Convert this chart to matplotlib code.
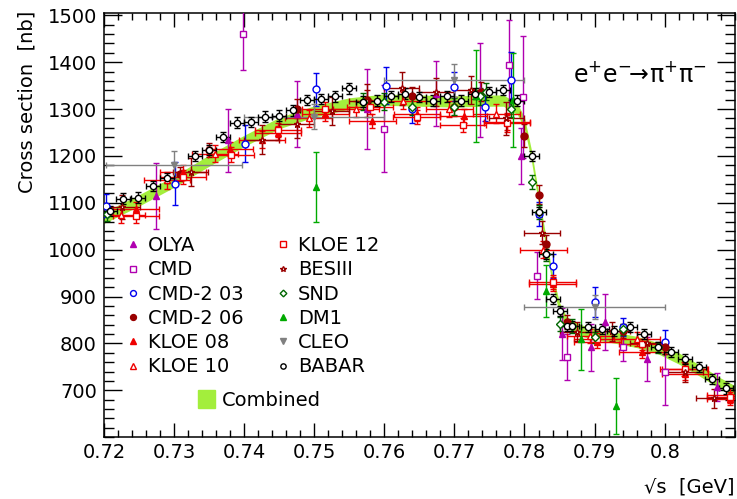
import matplotlib.pyplot as plt
import numpy as np
from matplotlib.lines import Line2D
from matplotlib.patches import Patch
from matplotlib.ticker import MultipleLocator

# combined fit band
comb_s = [0.720, 0.725, 0.730, 0.735, 0.740, 0.745, 0.750, 0.755, 0.760, 0.765,
          0.770, 0.774, 0.777, 0.779, 0.780, 0.781, 0.782, 0.783, 0.784, 0.785,
          0.786, 0.788, 0.790, 0.793, 0.796, 0.799, 0.802, 0.805, 0.808, 0.810]
comb_sig = [1068, 1105, 1145, 1190, 1232, 1270, 1295, 1312, 1320, 1318,
            1316, 1318, 1318, 1300, 1270, 1200, 1110, 1020, 935, 875,
            845, 828, 820, 812, 803, 790, 768, 742, 714, 698]
comb_w = 12

olya_s = [0.7275, 0.7377, 0.7476, 0.7575, 0.7674, 0.7736, 0.7795, 0.7854, 0.7895, 0.7915, 0.7975, 0.8075]
olya_sig = [1115, 1233, 1290, 1300, 1333, 1340, 1200, 820, 792, 845, 766, 707]
olya_err = [70, 68, 70, 85, 70, 100, 60, 55, 50, 60, 47, 30]

cmd_s = [0.7398, 0.7599, 0.7778, 0.7798, 0.7818, 0.7860, 0.7940, 0.8000]
cmd_sig = [1460, 1258, 1395, 1325, 944, 771, 792, 738]
cmd_err = [77, 93, 95, 130, 50, 50, 30, 70]

cmd203_s = [0.7203, 0.7301, 0.7401, 0.7503, 0.7603, 0.7640, 0.7700, 0.7743, 0.7781, 0.7821, 0.7841, 0.7900, 0.7940, 0.8000]
cmd203_sig = [1094, 1141, 1226, 1342, 1350, 1301, 1348, 1305, 1361, 1076, 965, 888, 835, 803]
cmd203_err = [25, 45, 40, 35, 40, 30, 30, 30, 60, 25, 25, 32, 20, 25]

cmd206_s = [0.7308, 0.7350, 0.7475, 0.7575, 0.7640, 0.7700, 0.7738, 0.7800, 0.7820, 0.7830, 0.7860, 0.7940, 0.8000]
cmd206_sig = [1162, 1213, 1301, 1320, 1327, 1305, 1337, 1243, 1117, 1012, 845, 826, 792]
cmd206_err = [15, 15, 20, 20, 20, 20, 20, 25, 20, 20, 15, 15, 15]

kloe08_s = [0.7246, 0.7313, 0.7380, 0.7448, 0.7516, 0.7583, 0.7647, 0.7713, 0.7775, 0.7840, 0.7904, 0.7968, 0.8029, 0.8093]
kloe08_sig = [1087, 1166, 1215, 1248, 1290, 1275, 1290, 1286, 1273, 927, 803, 781, 734, 681]
kloe08_err = [15, 15, 15, 15, 15, 15, 15, 15, 18, 15, 12, 12, 12, 12]

kloe10_s = [0.7225, 0.7290, 0.7358, 0.7425, 0.7492, 0.7560, 0.7626, 0.7693, 0.7760, 0.7827, 0.7893, 0.7960, 0.8027, 0.8093]
kloe10_sig = [1075, 1148, 1205, 1235, 1280, 1300, 1318, 1300, 1290, 1000, 815, 810, 745, 690]
kloe10_err = [18, 18, 18, 18, 18, 18, 18, 18, 20, 18, 15, 15, 15, 15]

kloe12_s = [0.7246, 0.7313, 0.7381, 0.7448, 0.7516, 0.7580, 0.7646, 0.7712, 0.7775, 0.7840, 0.7904, 0.7968, 0.8029, 0.8093]
kloe12_sig = [1072, 1155, 1203, 1255, 1300, 1305, 1283, 1265, 1270, 930, 810, 798, 745, 685]
kloe12_err = [15, 15, 15, 15, 15, 15, 15, 15, 18, 15, 12, 12, 12, 12]

bes_s = [0.7226, 0.7324, 0.7425, 0.7475, 0.7525, 0.7575, 0.7625, 0.7674, 0.7724, 0.7774, 0.7825, 0.7875, 0.7925, 0.7975, 0.8029, 0.8070]
bes_sig = [1091, 1166, 1235, 1269, 1295, 1318, 1344, 1337, 1340, 1280, 1036, 825, 826, 800, 738, 683]
bes_err = [25, 30, 30, 30, 30, 35, 35, 30, 30, 35, 25, 20, 20, 20, 20, 20]

snd_s = [0.7204, 0.7569, 0.7599, 0.7639, 0.7699, 0.7736, 0.7745, 0.7781, 0.7810, 0.7820, 0.7830, 0.7850, 0.7868, 0.7900, 0.7940, 0.7990]
snd_sig = [1076, 1316, 1316, 1305, 1305, 1327, 1337, 1301, 1145, 1081, 991, 841, 837, 813, 830, 792]
snd_err = [15, 18, 18, 18, 18, 18, 18, 18, 15, 15, 15, 15, 15, 12, 12, 12]

dm1_s = [0.7502, 0.7731, 0.7783, 0.7831, 0.7881, 0.7931]
dm1_sig = [1134, 1327, 1320, 912, 809, 666]
dm1_err = [75, 98, 100, 55, 65, 60]

cleo_s = [0.730, 0.750, 0.770, 0.790]
cleo_sig = [1180, 1284, 1361, 878]
cleo_err = [30, 27, 35, 25]
cleo_xerr = [0.0097, 0.010, 0.010, 0.010]

babar_s = [0.7209, 0.7227, 0.7248, 0.7270, 0.7290, 0.7330, 0.7350, 0.7370, 0.7390, 0.7410,
           0.7430, 0.7450, 0.7470, 0.7490, 0.7510, 0.7530, 0.7550, 0.7570, 0.7590, 0.7610,
           0.7629, 0.7650, 0.7669, 0.7690, 0.7710, 0.7729, 0.7750, 0.7770, 0.7790, 0.7810,
           0.7820, 0.7830, 0.7840, 0.7850, 0.7860, 0.7868, 0.7890, 0.7910, 0.7928, 0.7950,
           0.7970, 0.7990, 0.8009, 0.8029, 0.8049, 0.8068, 0.8087]
babar_sig = [1083, 1109, 1111, 1136, 1153, 1200, 1213, 1241, 1271, 1273,
             1284, 1286, 1297, 1320, 1322, 1327, 1344, 1316, 1318, 1327,
             1333, 1325, 1318, 1327, 1318, 1333, 1337, 1340, 1318, 1200,
             1081, 991, 895, 869, 837, 837, 835, 830, 826, 835,
             820, 792, 781, 766, 749, 724, 704]
babar_err = 11

magenta = '#b000b0'
red = '#ee0000'
dred = '#990000'

# label, s, sigma, dsigma, ds, marker, colour, filled, size
sets = [
    ('OLYA', olya_s, olya_sig, olya_err, 0, '^', magenta, True, 5),
    ('CMD', cmd_s, cmd_sig, cmd_err, 0, 's', magenta, False, 5),
    ('CMD-2 03', cmd203_s, cmd203_sig, cmd203_err, 0, 'o', '#0000ee', False, 5),
    ('CMD-2 06', cmd206_s, cmd206_sig, cmd206_err, 0, 'o', dred, True, 5),
    ('KLOE 08', kloe08_s, kloe08_sig, kloe08_err, 0.0033, '^', red, True, 5),
    ('KLOE 10', kloe10_s, kloe10_sig, kloe10_err, 0.0033, '^', red, False, 4.5),
    ('KLOE 12', kloe12_s, kloe12_sig, kloe12_err, 0.0033, 's', red, False, 4.5),
    ('BESIII', bes_s, bes_sig, bes_err, 0.0025, '*', dred, False, 5),
    ('SND', snd_s, snd_sig, snd_err, 0, 'D', '#006600', False, 4),
    ('DM1', dm1_s, dm1_sig, dm1_err, 0, '^', '#00aa00', True, 5),
    ('CLEO', cleo_s, cleo_sig, cleo_err, cleo_xerr, 'v', '#808080', True, 5),
    ('BABAR', babar_s, babar_sig, babar_err, 0.001, 'o', 'black', False, 4.5),
]

fig = plt.figure(figsize=(7.37, 4.99), dpi=100)
ax = fig.add_axes([0.141, 0.124, 0.856, 0.850])

s = np.array(comb_s)
sig = np.array(comb_sig)
ax.fill_between(s, sig - comb_w, sig + comb_w, color='#a3ee3c', lw=0, zorder=1)

handles = []
for lab, xs, ys, ye, xe, mk, col, filled, ms in sets:
    mfc = col if filled else 'white'
    ax.errorbar(xs, ys, yerr=ye, xerr=xe, fmt=mk, color=col, mfc=mfc, mec=col,
                ms=ms, mew=1, elinewidth=1, capsize=2.5, capthick=1, zorder=3)
    handles.append(Line2D([], [], ls='none', marker=mk, color=col, mfc=mfc,
                          mec=col, ms=ms * 0.85, mew=1, label=lab))

ax.set_xlim(0.72, 0.81)
ax.set_ylim(600, 1505)
ax.xaxis.set_minor_locator(MultipleLocator(0.002))
ax.yaxis.set_minor_locator(MultipleLocator(20))
ax.set_yticks([700, 800, 900, 1000, 1100, 1200, 1300, 1400, 1500])
ax.set_xticks([0.72, 0.73, 0.74, 0.75, 0.76, 0.77, 0.78, 0.79, 0.80])
ax.set_xticklabels(['0.72', '0.73', '0.74', '0.75', '0.76', '0.77', '0.78', '0.79', '0.8'])
ax.tick_params(which='both', direction='in', top=True, right=True, labelsize=14, width=1)
ax.tick_params(axis='y', which='major', length=13, pad=5)
ax.tick_params(axis='y', which='minor', length=7)
ax.tick_params(axis='x', which='major', length=10, pad=4)
ax.tick_params(axis='x', which='minor', length=5)
for sp in ax.spines.values():
    sp.set_linewidth(1.1)

leg = ax.legend(handles=handles, ncol=2, loc='upper left', bbox_to_anchor=(0.033, 0.474),
                frameon=False, fontsize=14, borderpad=0, borderaxespad=0,
                handlelength=0.8, handletextpad=0.4, columnspacing=1.6,
                labelspacing=0.27)
ax.add_artist(leg)
ax.legend(handles=[Patch(color='#a3ee3c', label='Combined')], loc='upper left',
          bbox_to_anchor=(0.149, 0.11), frameon=False, fontsize=14, borderpad=0,
          borderaxespad=0, handlelength=0.9, handleheight=1.0, handletextpad=0.35)

ax.text(0.85, 0.855, r'$\mathrm{e^{+}e^{-}\!\!\rightarrow\!\pi^{+}\pi^{-}}$',
        transform=ax.transAxes, fontsize=17, ha='center', va='center')

fig.text(27 / 737, 1 - 11 / 499, 'Cross section  [nb]', rotation=90,
         ha='center', va='top', fontsize=14)
fig.text(735 / 737, 1 - 487 / 499, '\u221as  [GeV]', ha='right', va='center', fontsize=14)

fig.savefig('out.png', dpi=100)
